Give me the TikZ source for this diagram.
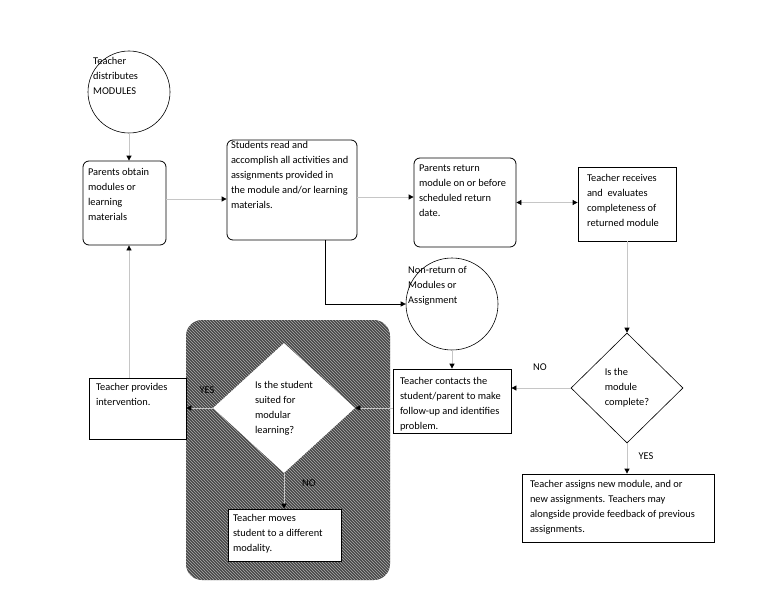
\documentclass[tikz,border=0pt]{standalone}
\usepackage{fontspec}
\setmainfont{Carlito}
\usetikzlibrary{arrows.meta,calc,patterns,shapes.geometric}
\newcommand{\cell}[3]{\parbox[c][#2pt][t]{#1pt}{#3}}

\begin{document}
\begin{tikzpicture}[x=1pt,y=-1pt]
\tikzset{every node/.style = {font=\fontsize{10.4}{15}\selectfont}}
\tikzset{rbox/.style = {draw,rounded corners=6pt,fill=white,inner sep=0pt,line width=0.8pt}}
\tikzset{sbox/.style = {draw,fill=white,inner sep=0pt,line width=0.8pt}}
\tikzset{bubble/.style = {shape=circle,draw,inner sep=0pt,line width=0.6pt}}
\tikzset{decision/.style = {shape=diamond,draw,fill=white,inner sep=0pt,align=left,line width=0.6pt}}
\tikzset{txt/.style = {anchor=north west,inner sep=0pt,align=left}}
\tikzset{hatch/.style = {rounded corners=16pt,fill=black!72,postaction={pattern=north west lines,pattern color=gray!65}}}
\tikzset{edge/.style = {draw=gray!45,line width=0.8pt,-{Triangle[black,length=5pt,width=5pt]}}}
\tikzset{twoway/.style = {edge,{Triangle[black,length=5pt,width=5pt]}-{Triangle[black,length=5pt,width=5pt]}}}
\useasboundingbox (0,0) rectangle (768,594);
% shaded area behind the second decision
\node[hatch, minimum width=204, minimum height=260] (modality) at (288,450) {};
% top row
\node[bubble, minimum size=82] (dist) at (129,92) {};
\node[txt] (distlbl) at (93,57) {Teacher\\distributes\\MODULES};
\node[rbox, minimum width=83, minimum height=84] (obtain) at (124.5,203) {\cell{73}{70}{Parents obtain\\modules or\\learning\\materials}};
\node[rbox, minimum width=130, minimum height=100] (students) at (292,190) {\cell{122}{98}{Students read and\\accomplish all activities and\\assignments provided in\\the module and/or learning\\materials.}};
\node[rbox, minimum width=102, minimum height=89] (return) at (465,202.5) {\cell{92}{75}{Parents return\\module on or before\\scheduled return\\date.}};
\node[sbox, minimum width=98, minimum height=74] (receives) at (627,204) {\cell{80}{60}{Teacher receives\\and~ evaluates\\completeness of\\returned module}};
% right column
\node[decision, minimum width=112, minimum height=110] (complete) at (627,388) {Is the\\module\\complete?};
\node[sbox, minimum width=192, minimum height=68] (assigns) at (618,508) {\cell{176}{56}{Teacher assigns new module, and or\\new assignments. Teachers may\\alongside provide feedback of previous\\assignments.}};
% middle
\node[bubble, minimum size=92] (nonret) at (452,304) {};
\node[txt] (nonretlbl) at (408,266) {Non-return of\\Modules or\\Assignment};
\node[sbox, minimum width=118, minimum height=64] (contacts) at (452,401) {\cell{104}{48}{Teacher contacts the\\student/parent to make\\follow-up and identifies\\problem.}};
\node[sbox, minimum width=97, minimum height=61] (interv) at (137.5,408.5) {\cell{83}{51}{Teacher provides\\intervention.}};
\node[decision, draw=none, minimum width=142, minimum height=130] (suited) at (284,408) {Is the student\\suited for\\modular\\learning?};
\node[sbox, minimum width=113, minimum height=52] (moves) at (284.5,535) {\cell{103}{42}{Teacher moves\\student to a different\\modality.}};
% answers
\node (nolbl) at (540,367) {NO};
\node (yeslbl) at (646,456) {YES};
\node (yesin) at (207,390) {YES};
\node (noin) at (309,483) {NO};
% connectors
\draw[edge] (dist) -- (dist |- obtain.north);
\draw[edge] (dist |- interv.north) -- (dist |- obtain.south);
\draw[edge] ([yshift=4pt]obtain.east) -- ([yshift=4pt]obtain.east -| students.west);
\draw[edge] ([yshift=5.5pt]return.west -| students.east) -- ([yshift=5.5pt]return.west);
\draw[twoway] (return.east) -- (return.east -| receives.west);
\draw[edge] (receives.south) -- (complete.north);
\draw[edge] (complete.west) -- (complete.west -| contacts.east);
\draw[edge] (complete.south) -- (complete.south |- assigns.north);
\draw[edge,draw=black] ([xshift=33pt]students.south) |- (nonret.west);
\draw[edge] (nonret.south) -- (nonret.south |- contacts.north);
\draw[edge] (contacts.west |- suited.east) -- (suited.east);
\draw[edge] (suited.west) -- (suited.west -| interv.east);
\draw[edge] (suited.south) -- (suited.south |- moves.north);
\end{tikzpicture}
\end{document}
